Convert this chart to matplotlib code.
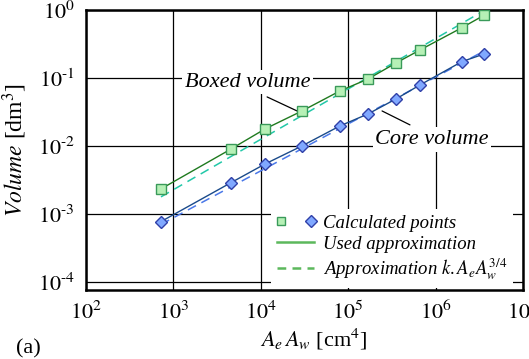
import numpy as np
import matplotlib.pyplot as plt
from matplotlib.lines import Line2D
from matplotlib.legend_handler import HandlerTuple

plt.rcParams['font.family'] = ['Liberation Serif', 'DejaVu Serif']
plt.rcParams['mathtext.fontset'] = 'stix'

# Area product AeAw [cm^4] of the computed designs
ae_aw = [721, 4560, 1.12e4, 2.96e4, 8.05e4, 1.69e5, 3.52e5, 6.63e5, 2.0e6, 3.58e6]

# Volumes [dm^3]
boxed_vol = [2.33e-3, 9.0e-3, 0.0178, 0.0327, 0.0644, 0.0967, 0.166, 0.258, 0.549, 0.836]
core_vol = [7.7e-4, 2.88e-3, 5.43e-3, 0.0100, 0.0197, 0.0296, 0.0491, 0.0789, 0.174, 0.225]

# k.AeAw^(3/4) approximations, end points
approx_x = [721, 3.58e6]
boxed_approx = [1.78e-3, 0.98]
core_approx = [7.0e-4, 0.249]

x_exp = [2, 3, 4, 5, 6, 7]
y_exp = [-4, -3, -2, -1, 0]

fig = plt.figure(figsize=(5.29, 3.59), dpi=100)
ax = fig.add_axes([86 / 529, 1 - 290 / 359, 437 / 529, 280 / 359])

ax.set_xscale('log')
ax.set_yscale('log')
ax.set_xlim(1e2, 1e7)
ax.set_ylim(10 ** -4.12, 1)

# approximations
ax.plot(approx_x, boxed_approx, ls=(0, (6, 4)), color='#22c8a8', lw=1.1, zorder=3)
ax.plot(approx_x, core_approx, ls=(0, (6, 4)), color='#4a78e8', lw=1.1, zorder=3)
ax.plot(ae_aw, boxed_vol, '-', color='#1f7a1f', lw=1.0, zorder=4)
ax.plot(ae_aw, core_vol, '-', color='#1a4a8a', lw=1.0, zorder=4)

# calculated points
ax.plot(ae_aw, boxed_vol, 's', ms=7, mfc='#b6f0b6', mec='#3a9a5a', mew=1.0, zorder=5)
ax.plot(ae_aw, core_vol, 'D', ms=6.5, mfc='#80a8ff', mec='#3040a8', mew=1.0, zorder=5)

ax.grid(True, which='major', color='black', lw=0.9)
ax.minorticks_off()
ax.tick_params(which='both', length=0, labelsize=16, pad=8)
ax.set_xticks([10.0 ** e for e in x_exp])
ax.set_yticks([10.0 ** e for e in y_exp])
ax.set_xticklabels([r'$10^{\text{%d}}$' % e for e in x_exp])
ax.set_yticklabels([r'$10^{\text{%d}}$' % e for e in y_exp])
for s in ax.spines.values():
    s.set_linewidth(1.8)

ax.set_ylabel(r'$\mathit{Volume}$ [dm$^{3}$]', fontsize=17, labelpad=6)
ax.set_xlabel(r'$A_e\,A_w$ [cm$^{4}$]', fontsize=16, labelpad=4)
ax.xaxis.set_label_coords(0.522, -0.13)
fig.text(16 / 529, 1 - 349 / 359, '(a)', fontsize=16, va='center', ha='left')

# curve labels with leader lines
lbl = dict(fontsize=16, style='italic', ha='center', va='center',
           bbox=dict(fc='white', ec='none', pad=2), zorder=6)
ax.text(7.1e3, 0.087, 'Boxed volume', **lbl)
ax.text(9.1e5, 0.0125, 'Core volume', **lbl)
lead = dict(arrowstyle='-', color='black', lw=0.9, shrinkA=0, shrinkB=0)
ax.annotate('', xy=(2.6e4, 0.0327), xytext=(1.18e4, 0.0526), arrowprops=lead)
ax.annotate('', xy=(5.09e5, 0.0204), xytext=(2.44e5, 0.0327), arrowprops=lead)

h_pts = (Line2D([], [], ls='none', marker='s', ms=6, mfc='#b6f0b6', mec='#3a9a5a'),
         Line2D([], [], ls='none', marker='D', ms=6, mfc='#80a8ff', mec='#3040a8'))
h_used = Line2D([], [], color='#5cb85c', lw=1.8)
h_appr = Line2D([], [], color='#5cb85c', lw=1.8, ls=(0, (3.5, 2.5)))
leg = ax.legend([h_pts, h_used, h_appr],
                ['Calculated points', 'Used approximation',
                 r'Approximation $k.A_eA_w^{\mathrm{3/4}}$'],
                handler_map={tuple: HandlerTuple(ndivide=None, pad=1.2)},
                loc='lower right', bbox_to_anchor=(0.985, -0.005),
                prop=dict(size=13.5, style='italic'), frameon=True,
                framealpha=1, edgecolor='none', fancybox=False,
                handlelength=2.0, handletextpad=0.45, labelspacing=0.2,
                borderpad=0.3, borderaxespad=0.2)
leg.set_zorder(7)

fig.savefig('out.png', dpi=100)
